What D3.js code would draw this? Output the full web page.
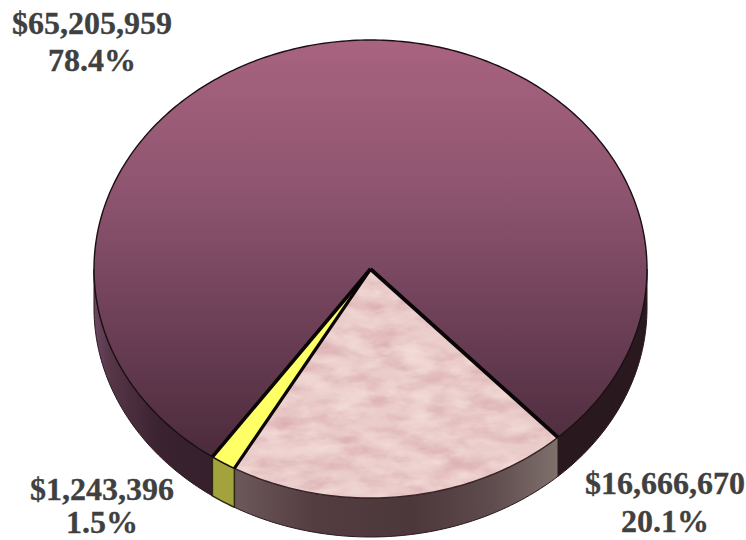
<!DOCTYPE html>
<html><head><meta charset="utf-8">
<script src="https://cdn.jsdelivr.net/npm/d3@7"></script>
<style>html,body{margin:0;padding:0;background:#fff}svg{display:block}
text{font-family:"Liberation Serif",serif;font-weight:700;fill:#404040;stroke:#404040;stroke-width:.3px;font-size:32px;text-anchor:middle}</style>
</head><body><svg id="c" width="746" height="540"></svg>
<script>
const amounts = ["$16,666,670", "$1,243,396", "$65,205,959"];
const percents = ["20.1%", "1.5%", "78.4%"];
const values = [16666670, 1243396, 65205959];
const topFills = ["#eaccca", "#ffff66", "url(#maroonTop)"];
const wallFills = ["url(#pinkWall)", "#a3a33e", "url(#maroonWall)"];
const labelAnchors = [[665, 494, 532], [102, 500, 533], [92, 34, 71]];
const startDeg = 137.3;

const svg = d3.select("#c");
const defs = svg.append("defs");
function grad(id, coords, stops) {
  const g = defs.append("linearGradient").attr("id", id).attr("gradientUnits", "userSpaceOnUse")
    .attr("x1", coords[0]).attr("y1", coords[1]).attr("x2", coords[2]).attr("y2", coords[3]);
  stops.forEach(s => g.append("stop").attr("offset", s[0]).attr("stop-color", s[1]));
}
grad("maroonTop", [0, 41, 0, 460], [[0, "#a8637f"], [0.35, "#8f5570"], [0.7, "#6a3e55"], [1, "#4a2a3a"]]);
grad("maroonWall", [94, 0, 647, 0], [[0, "#6d4762"], [0.03, "#563647"], [0.12, "#3a2230"], [0.5, "#2a181f"], [1, "#2a181f"]]);
grad("pinkWall", [234, 0, 557, 0], [[0, "#6d585c"], [0.25, "#533d41"], [0.55, "#4c373a"], [0.8, "#5f4c4e"], [1, "#7f706c"]]);

const f = defs.append("filter").attr("id", "mottle").attr("x", 0).attr("y", 0).attr("width", 1).attr("height", 1)
  .attr("color-interpolation-filters", "sRGB");
f.append("feTurbulence").attr("type", "fractalNoise").attr("baseFrequency", "0.03 0.07").attr("numOctaves", 4).attr("seed", 7).attr("result", "n");
f.append("feColorMatrix").attr("in", "n").attr("type", "matrix").attr("values", "0 0 0 0 0.86  0 0 0 0 0.68  0 0 0 0 0.70  2.0 0 0 0 -0.75").attr("result", "dark");
f.append("feColorMatrix").attr("in", "n").attr("type", "matrix").attr("values", "0 0 0 0 0.95  0 0 0 0 0.86  0 0 0 0 0.84  0 2.0 0 0 -0.75").attr("result", "light");
f.append("feComposite").attr("in", "dark").attr("in2", "SourceGraphic").attr("operator", "in").attr("result", "d2");
f.append("feComposite").attr("in", "light").attr("in2", "SourceGraphic").attr("operator", "in").attr("result", "l2");
const fm = f.append("feMerge");
fm.append("feMergeNode").attr("in", "SourceGraphic");
fm.append("feMergeNode").attr("in", "d2");
fm.append("feMergeNode").attr("in", "l2");

const x = d3.scaleLinear().domain([-1, 1]).range([94, 647]);
const y = d3.scaleLinear().domain([-1, 1]).range([40, 498]);
const depth = 39;

const pie = d3.pie().sort(null).startAngle(startDeg * Math.PI / 180).endAngle((startDeg + 360) * Math.PI / 180);
const arcs = pie(values);

const samples = (a0, a1) => {
  const n = Math.max(2, Math.ceil((a1 - a0) * 60));
  return d3.range(n + 1).map(i => a0 + (a1 - a0) * i / n);
};
const line = d3.line().x(d => d[0]).y(d => d[1]);
const rim = (a, dy = 0) => [x(Math.sin(a)), y(-Math.cos(a)) + dy];
const P = Math.PI;

function frontParts(a0, a1) {
  const parts = [];
  for (let k = -1; k <= 2; k++) {
    const s = Math.max(a0, P / 2 + k * 2 * P), e = Math.min(a1, 3 * P / 2 + k * 2 * P);
    if (e > s) parts.push([s, e]);
  }
  return parts;
}

const walls = svg.append("g");
[2, 0, 1].forEach(i => {
  frontParts(arcs[i].startAngle, arcs[i].endAngle).forEach(([s, e]) => {
    const pts = samples(s, e);
    const d = pts.map(a => rim(a)).concat(pts.slice().reverse().map(a => rim(a, depth)));
    walls.append("path").attr("d", line(d) + "Z").attr("fill", wallFills[i])
      .attr("stroke", i === 1 ? "#2a2a10" : "#2a181f").attr("stroke-width", i === 1 ? 1.5 : 1).attr("stroke-linejoin", "round");
  });
});

const tops = svg.append("g");
[2, 0, 1].forEach(i => {
  const pts = samples(arcs[i].startAngle, arcs[i].endAngle).map(a => rim(a));
  const d = [[x(0), y(0)]].concat(pts);
  const p = tops.append("path").attr("d", line(d) + "Z").attr("fill", topFills[i]).attr("stroke", "none");
  if (i === 0) p.attr("filter", "url(#mottle)");
  tops.append("path").attr("d", line(pts)).attr("fill", "none").attr("stroke", i === 0 ? "#3a2527" : "#1a0f14").attr("stroke-width", 1.4);
});
[[arcs[0].startAngle, 3.8], [arcs[0].endAngle, 3.2], [arcs[1].endAngle, 3.6]].forEach(([a, w]) => {
  tops.append("path").attr("d", line([[x(0), y(0)], rim(a)])).attr("fill", "none")
    .attr("stroke", "#0a0506").attr("stroke-width", w);
});

const labels = svg.append("g");
amounts.forEach((t, i) => {
  const [lx, y1, y2] = labelAnchors[i];
  labels.append("text").attr("x", lx).attr("y", y1).text(t);
  labels.append("text").attr("x", lx).attr("y", y2).text(percents[i]);
});
</script></body></html>
